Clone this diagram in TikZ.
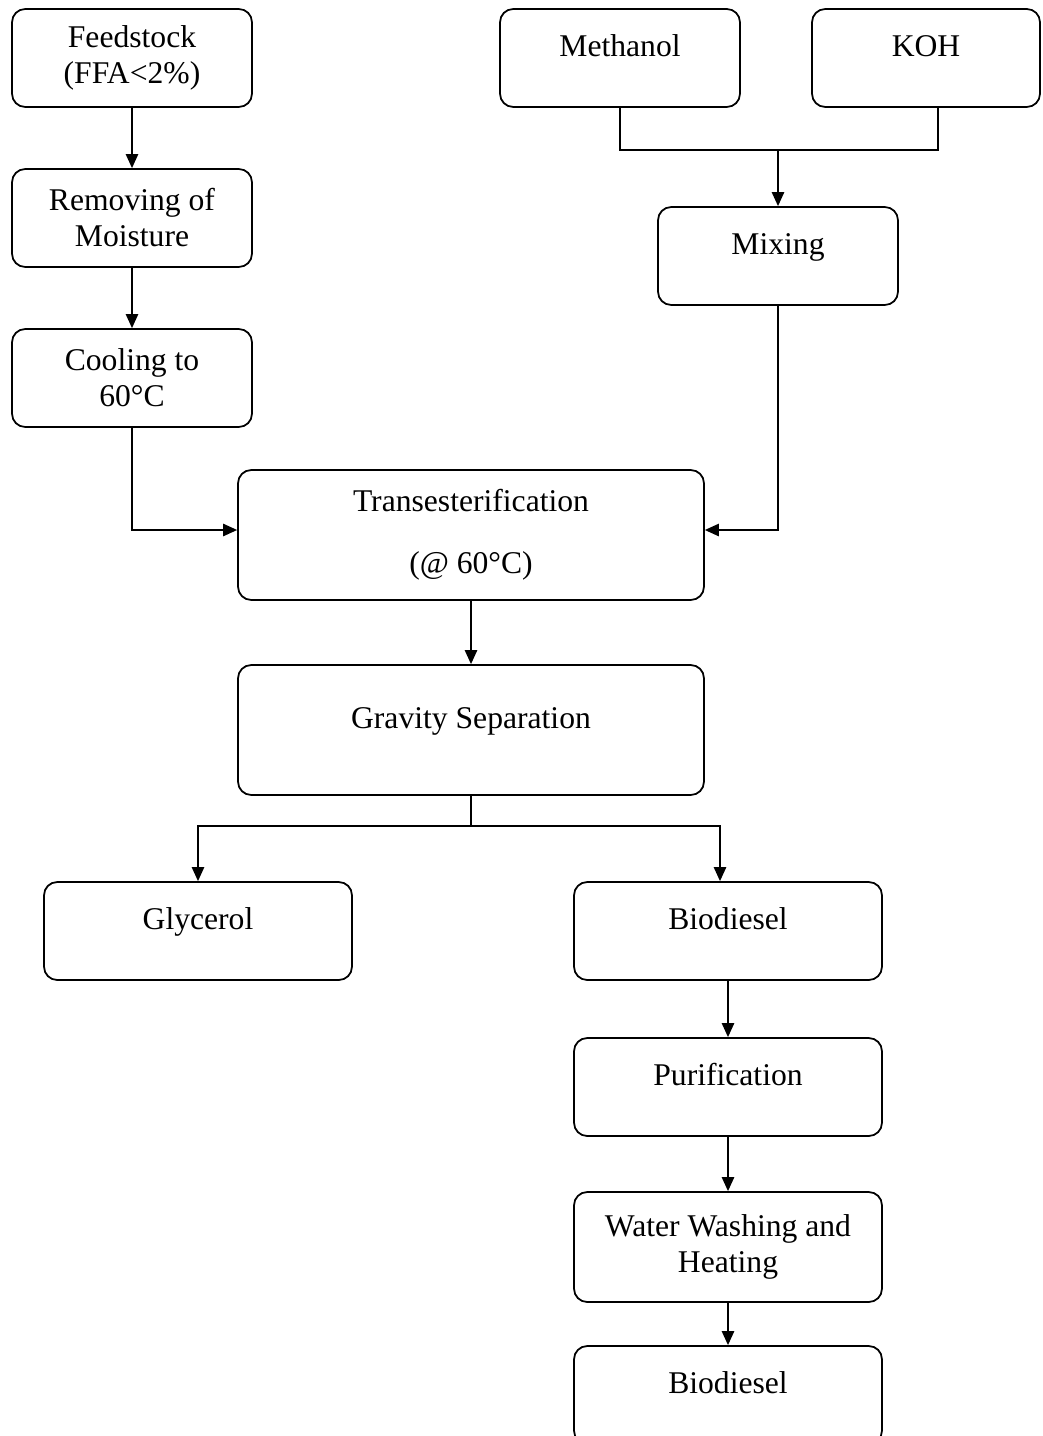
\documentclass[tikz,border=0pt]{standalone}
\usepackage{fontspec}
\setmainfont{Liberation Serif}
\usepackage{tikz}
\usetikzlibrary{
  positioning,
  calc,
  arrows.meta
}

\begin{document}
\begin{tikzpicture}[x=0.02cm,y=-0.02cm,
  box/.style={draw,line width=1pt,rounded corners=7.5pt,inner sep=0pt,
    align=center,font=\fontsize{18}{20.5}\selectfont},
  small/.style={box,minimum width=4.8cm,minimum height=1.96cm},
  wide/.style={box,minimum width=6.16cm,minimum height=1.96cm},
  big/.style={box,minimum width=9.32cm,minimum height=2.6cm},
  upper/.style={text height=13pt,text depth=14.6pt},
  lower/.style={text height=13pt,text depth=10pt},
  flow/.style={line width=1pt,-{Triangle[length=8pt,width=7pt]}},
  link/.style={line width=1pt}
]
  \useasboundingbox (0,0) rectangle (1043,1436);

  % left branch
  \node[small] (feed) at (132,58) {Feedstock\\(FFA<2\%)};
  \node[small] (rem) at (132,218) {Removing of\\Moisture};
  \node[small] (cool) at (132,378) {Cooling to\\60°C};

  % right branch
  \node[small,upper] (meth) at (620,58) {Methanol};
  \node[small,upper,minimum width=4.56cm] (koh) at (926,58) {KOH};
  \node[small,upper] (mix) at (778,256) {Mixing};
  \coordinate (mj) at (778,150);

  % reaction and separation
  \node[big] (trans) at (471,535) {Transesterification\\[15pt](@ 60°C)};
  \node[big,upper] (grav) at (471,730) {Gravity Separation};
  \coordinate (gj) at (471,826);

  \node[wide,upper] (gly) at (198,931) {Glycerol};
  \node[wide,upper] (bio) at (728,931) {Biodiesel};
  \node[wide,upper] (pur) at (728,1087) {Purification};
  \node[wide,minimum height=2.2cm] (wash) at (728,1247) {Water Washing and\\Heating};
  \node[wide,upper] (bio2) at (728,1395) {Biodiesel};

  \draw[flow] (feed) -- (rem);
  \draw[flow] (rem) -- (cool);
  \draw[flow] (cool.south) |- ([yshift=0.1cm]trans.west);

  \draw[link] (meth.south) |- (mj) -| ([xshift=0.24cm]koh.south);
  \draw[flow] (mj) -- (mix.north);
  \draw[flow] (mix.south) |- ([yshift=0.1cm]trans.east);

  \draw[flow] (trans) -- (grav);
  \draw[link] (grav.south) -- (gj);
  \draw[flow] (gj) -| (gly.north);
  \draw[flow] (gj) -| ([xshift=-0.16cm]bio.north);

  \foreach \a/\b in {bio/pur,pur/wash,wash/bio2}
    \draw[flow] (\a) -- (\b);
\end{tikzpicture}
\end{document}
